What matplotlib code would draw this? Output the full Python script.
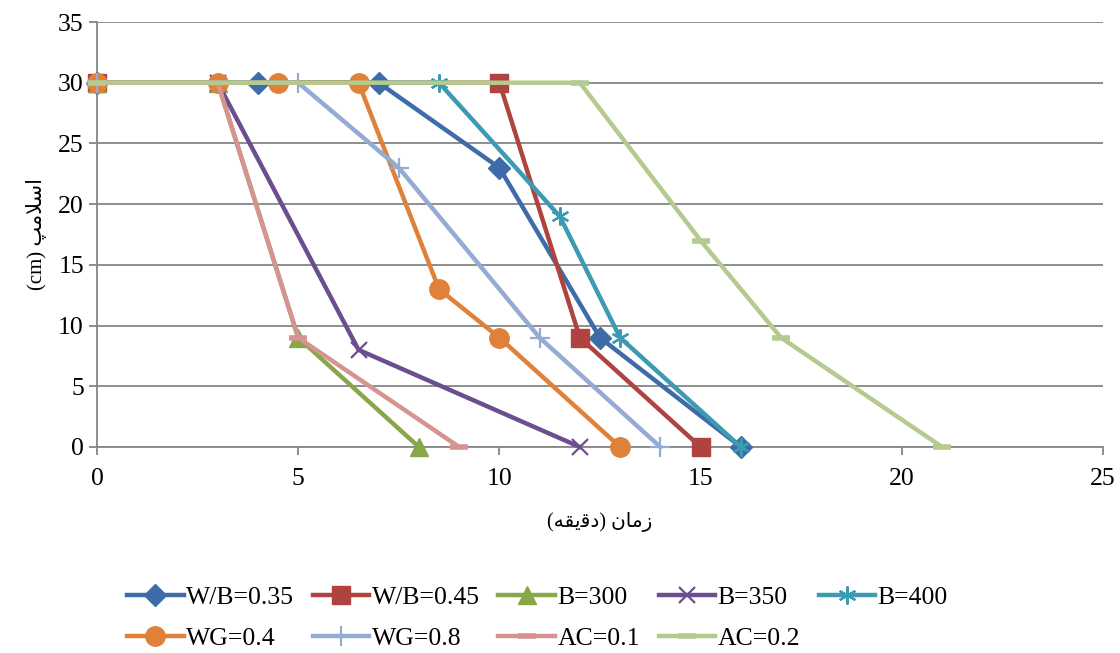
import matplotlib.pyplot as plt

# series data (time in minutes, slump in cm)
labels = ["W/B=0.35", "W/B=0.45", "B=300", "B=350", "B=400",
          "WG=0.4", "WG=0.8", "AC=0.1", "AC=0.2"]
x_wb035 = [0, 4, 7, 10, 12.5, 16]
y_wb035 = [30, 30, 30, 23, 9, 0]
x_wb045 = [0, 10, 12, 15]
y_wb045 = [30, 30, 9, 0]
x_b300 = [0, 3, 5, 8]
y_b300 = [30, 30, 9, 0]
x_b350 = [0, 3, 6.5, 12]
y_b350 = [30, 30, 8, 0]
x_b400 = [0, 8.5, 11.5, 13, 16]
y_b400 = [30, 30, 19, 9, 0]
x_wg04 = [0, 3, 4.5, 6.5, 8.5, 10, 13]
y_wg04 = [30, 30, 30, 30, 13, 9, 0]
x_wg08 = [0, 5, 7.5, 11, 14]
y_wg08 = [30, 30, 23, 9, 0]
x_ac01 = [0, 3, 5, 9]
y_ac01 = [30, 30, 9, 0]
x_ac02 = [0, 12, 15, 17, 21]
y_ac02 = [30, 30, 17, 9, 0]

xs = [x_wb035, x_wb045, x_b300, x_b350, x_b400, x_wg04, x_wg08, x_ac01, x_ac02]
ys = [y_wb035, y_wb045, y_b300, y_b350, y_b400, y_wg04, y_wg08, y_ac01, y_ac02]

colors = ["#3D6CA8", "#AF433F", "#8AA64A", "#6B4E90", "#3C9AB2",
          "#E0813A", "#94ABD3", "#D69391", "#B4CA8E"]
markers = ["D", "s", "^", "x", (6, 2, 0), "o", "+", "_", "_"]
msizes = [11, 13, 13, 12, 13, 14, 15, 13, 13]
mews = [1, 1, 1, 1.6, 1.6, 1, 1.6, 4, 4]

# Persian labels in visual order with presentation forms
xlabel = "(\uFEEA\uFED8\uFBFE\uFED7\uFEA9) \uFEE5\uFE8E\uFEE3\uFEAF"
ylabel = "(cm) \uFB57\uFEE3\uFEFC\uFEB3\uFE8D"

plt.rcParams['font.family'] = ['Liberation Serif', 'DejaVu Sans']

fig = plt.figure(figsize=(11.2, 6.53), dpi=100)
ax = fig.add_axes([0.0866, 0.3155, 0.8982, 0.6508])

handles = []
for i in range(len(labels)):
    h, = ax.plot(xs[i], ys[i], color=colors[i], lw=3.2, marker=markers[i],
                 ms=msizes[i], mew=mews[i], mec=colors[i], mfc=colors[i],
                 label=labels[i], solid_joinstyle='miter', zorder=3 + i,
                 clip_on=False)
    handles.append(h)

ax.set_xlim(0, 25)
ax.set_ylim(0, 35)
ax.set_xticks(range(0, 26, 5))
ax.set_yticks(range(0, 36, 5))
ax.yaxis.grid(True, color="#868686", lw=1.3)
ax.set_axisbelow(True)
for s in ["top", "right"]:
    ax.spines[s].set_visible(False)
for s in ["left", "bottom"]:
    ax.spines[s].set_color("#868686")
    ax.spines[s].set_linewidth(1.3)
ax.tick_params(axis="both", colors="#868686", length=6, width=1.3,
               labelsize=18.5, labelcolor="black")
ax.tick_params(axis="x", pad=9)

ax.set_xlabel(xlabel, fontsize=14.5, labelpad=16)
ax.set_ylabel(ylabel, fontsize=15, labelpad=8)

order = [0, 5, 1, 6, 2, 7, 3, 8, 4]
leg = fig.legend([handles[k] for k in order], [labels[k] for k in order],
                 ncol=5, loc="center", bbox_to_anchor=(0.48, 0.053),
                 frameon=False, fontsize=18.5, handlelength=2.2,
                 handletextpad=0.1, columnspacing=0.72, labelspacing=0.7)

fig.savefig("out.png", dpi=100)
